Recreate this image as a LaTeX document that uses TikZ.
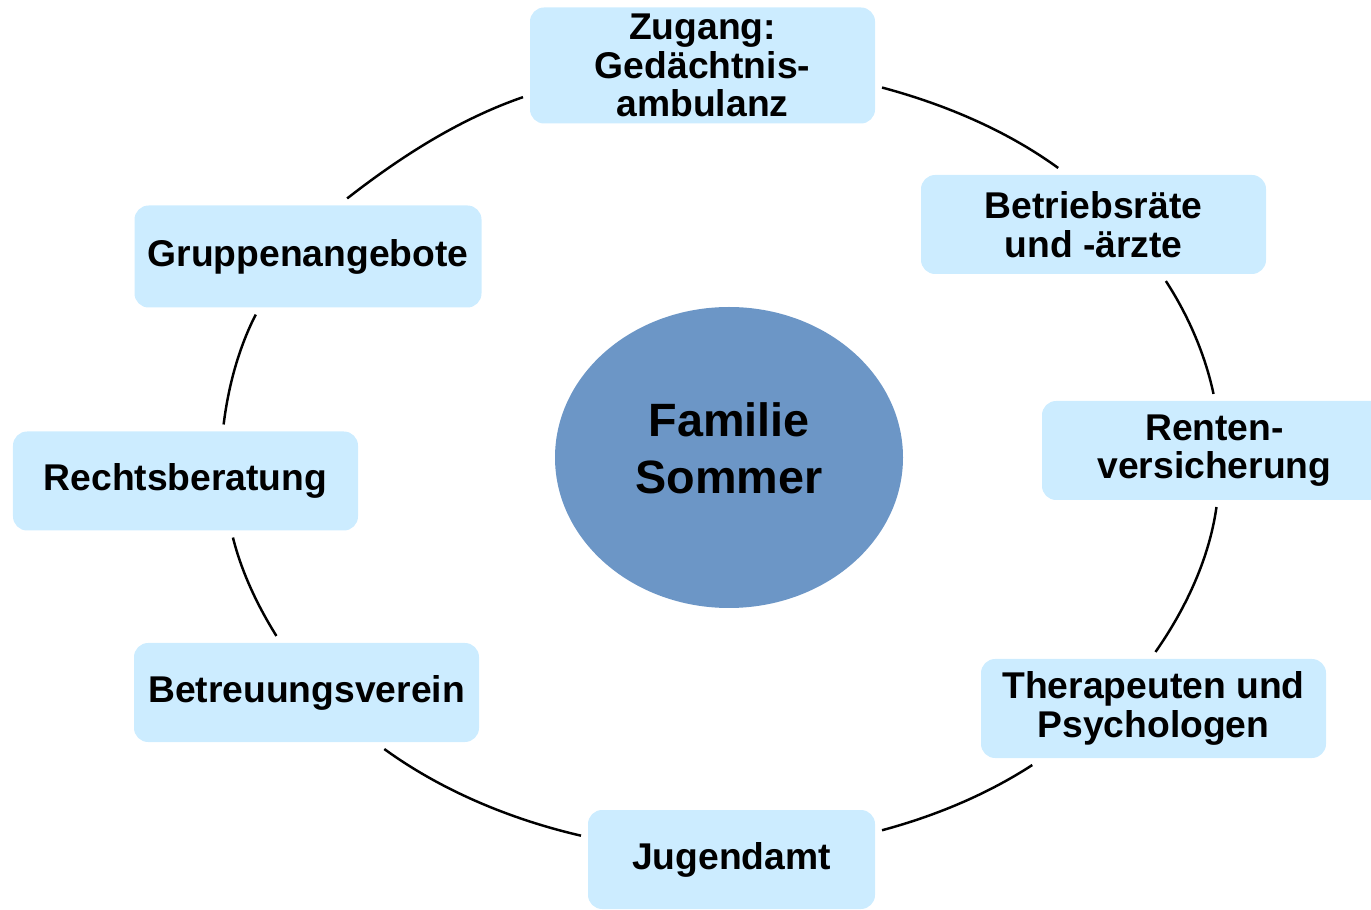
\documentclass[tikz,border=0pt]{standalone}
\usepackage{fontspec}
\setmainfont{Liberation Sans}
\usetikzlibrary{shapes.geometric}
\definecolor{kastenblau}{RGB}{204,236,255}
\definecolor{kreisblau}{RGB}{108,150,198}

\begin{document}
\begin{tikzpicture}[
        kasten/.style={rectangle, rounded corners=4pt, fill=kastenblau, minimum width=3.45cm, minimum height=0.99cm,
            inner sep=0pt, outer sep=2pt, align=center, font=\bfseries\fontsize{10.6}{11}\selectfont},
        ring/.style={line width=0.7pt, looseness=0.85}
    ]
        \useasboundingbox (0, 0) rectangle (13.71, 9.09);
        \clip (0, 0) rectangle (13.71, 9.09);
        \node[ellipse, fill=kreisblau, minimum width=3.48cm, minimum height=3.01cm, inner sep=0pt, text depth=0.19cm,
            align=center, font=\bfseries\fontsize{13.3}{16}\selectfont] (familie) at (7.29, 4.515) {Familie\\Sommer};
        \node[kasten, minimum height=1.16cm] (zugang)      at ( 7.025, 8.435) {Zugang:\\Gedächtnis-\\ambulanz};
        \node[kasten]                        (betrieb)     at (10.935, 6.845) {Betriebsräte\\und -ärzte};
        \node[kasten]                        (renten)      at (12.145, 4.585) {Renten-\\versicherung};
        \node[kasten]                        (therapeuten) at (11.535, 2.005) {Therapeuten und\\Psychologen};
        \node[kasten, minimum width=2.87cm]  (jugendamt)   at ( 7.315, 0.495) {Jugendamt};
        \node[kasten]                        (betreuung)   at ( 3.065, 2.165) {Betreuungsverein};
        \node[kasten]                        (rechts)      at ( 1.855, 4.280) {Rechtsberatung};
        \node[kasten, minimum width=3.47cm, minimum height=1.02cm] (gruppen) at (3.08, 6.525) {Gruppenangebote};
        \draw[ring] (zugang.-7)       to[out=-15, in=144] (betrieb.122);
        \draw[ring] (betrieb.-38)     to[out=-57, in=102] (renten.91);
        \draw[ring] (renten.-88)      to[out=-98, in=55]  (therapeuten.88);
        \draw[ring] (therapeuten.205) to[out=-147, in=15] (jugendamt.11);
        \draw[ring] (jugendamt.171)   to[out=167, in=-36] (betreuung.-36);
        \draw[ring] (betreuung.118)   to[out=122, in=-76] (rechts.-50);
        \draw[ring] (rechts.56)       to[out=83, in=-117] (gruppen.228);
        \draw[ring] (gruppen.56)      to[out=38, in=-161] (zugang.190);
    \end{tikzpicture}
\end{document}
